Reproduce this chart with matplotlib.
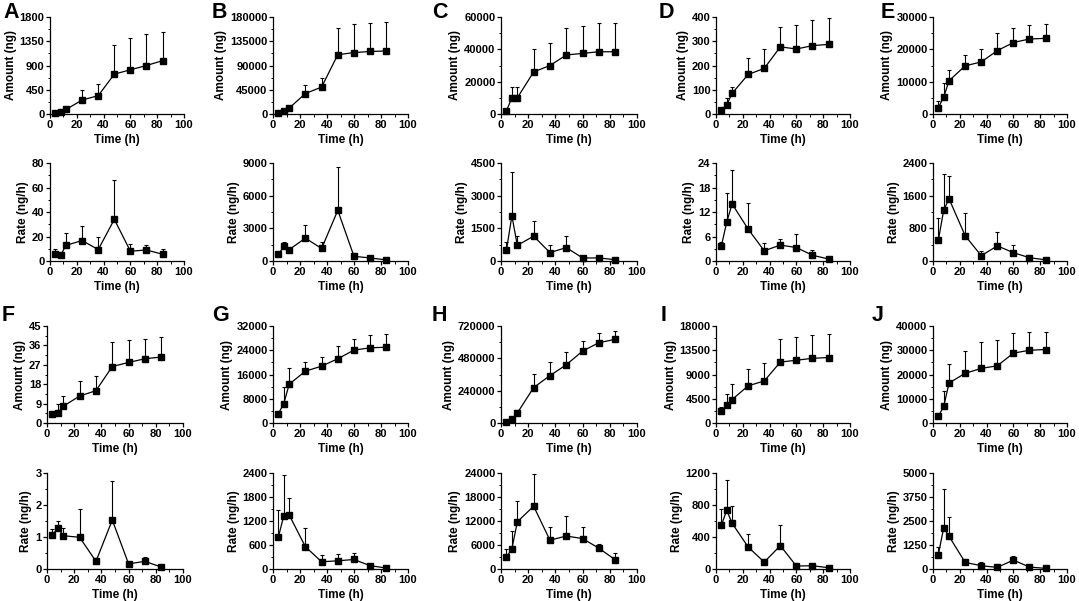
import numpy as np
import matplotlib
matplotlib.use("Agg")
import matplotlib.pyplot as plt
from matplotlib.ticker import MultipleLocator

plt.rcParams['font.family'] = ['Liberation Sans', 'DejaVu Sans']
plt.rcParams['font.weight'] = 'bold'

time_h = [4, 8, 12, 24, 36, 48, 60, 72, 84]
panels = ['A', 'B', 'C', 'D', 'E', 'F', 'G', 'H', 'I', 'J']

# cumulative amount (ng): mean and upper SD
amount = {
    'A': [25, 30, 85, 260, 340, 740, 820, 900, 990],
    'B': [2000, 6000, 11000, 38000, 50000, 110000, 114000, 116000, 117000],
    'C': [2000, 10000, 10000, 26000, 30000, 36500, 37500, 38500, 38500],
    'D': [15, 38, 85, 163, 188, 277, 268, 282, 287],
    'E': [2000, 5200, 10300, 14900, 16100, 19600, 22100, 23200, 23400],
    'F': [4.1, 4.8, 7.8, 12.5, 15, 26.2, 28.1, 29.8, 30.6],
    'G': [3100, 6400, 12800, 17100, 18750, 21200, 24050, 24800, 25000],
    'H': [7000, 27000, 74000, 263000, 352000, 432000, 534000, 596000, 621000],
    'I': [2200, 3350, 4350, 6900, 7800, 11300, 11650, 12000, 12150],
    'J': [2750, 6900, 16500, 20500, 22500, 23600, 28800, 30000, 30300],
}
amount_sd = {
    'A': [5, 10, 30, 180, 210, 540, 590, 580, 530],
    'B': [1000, 1500, 3000, 16000, 17000, 50000, 53000, 52000, 53000],
    'C': [1000, 6500, 7000, 14000, 14000, 17000, 17000, 17500, 17500],
    'D': [5, 27, 27, 69, 80, 83, 98, 105, 110],
    'E': [2000, 4500, 3400, 3500, 3900, 5600, 4400, 4200, 4300],
    'F': [0.3, 3.9, 4.7, 7.2, 6.6, 11.3, 10.3, 9.4, 9.4],
    'G': [300, 5500, 5400, 3100, 3150, 4200, 3750, 4100, 4200],
    'H': [3000, 8000, 20000, 99000, 100000, 94000, 77000, 69000, 59000],
    'I': [800, 2100, 2900, 3200, 3350, 4200, 4250, 4300, 4350],
    'J': [1150, 6300, 7800, 9100, 10700, 10600, 8300, 7400, 7300],
}

# excretion rate (ng/h): mean and upper SD
rate = {
    'A': [6, 5, 12.8, 16.7, 9.3, 34, 8, 9, 5.5],
    'B': [600, 1350, 1050, 2100, 1150, 4650, 430, 280, 100],
    'C': [490, 2080, 720, 1140, 385, 615, 140, 140, 60],
    'D': [3.7, 9.5, 14, 7.8, 2.5, 3.9, 3.3, 1.4, 0.5],
    'E': [510, 1250, 1520, 620, 130, 370, 205, 80, 30],
    'F': [1.05, 1.29, 1.04, 0.99, 0.24, 1.53, 0.16, 0.24, 0.06],
    'G': [800, 1335, 1350, 557, 180, 205, 238, 82, 25],
    'H': [3000, 5000, 11800, 15700, 7200, 8250, 7600, 5200, 2300],
    'I': [547, 735, 572, 275, 86, 292, 37, 41, 16],
    'J': [755, 2150, 1700, 345, 170, 85, 465, 100, 35],
}
rate_sd = {
    'A': [4, 0.5, 10, 12, 10.4, 32, 6, 4, 4.5],
    'B': [200, 350, 80, 1250, 550, 3950, 270, 60, 40],
    'C': [390, 2000, 430, 690, 370, 535, 40, 30, 10],
    'D': [1.0, 7.1, 8.4, 6.3, 1.8, 1.6, 3.3, 1.3, 0.1],
    'E': [540, 880, 550, 550, 110, 330, 180, 75, 10],
    'F': [0.21, 0.22, 0.25, 0.88, 0.1, 1.21, 0.02, 0.15, 0.01],
    'G': [675, 1005, 420, 473, 165, 180, 155, 20, 10],
    'H': [2000, 4500, 5100, 8000, 3400, 5100, 3000, 1100, 1800],
    'I': [201, 383, 221, 157, 45, 255, 8, 5, 3],
    'J': [395, 2040, 1030, 120, 175, 20, 235, 30, 10],
}

amount_ylim = {'A': (1800, 450), 'B': (180000, 45000), 'C': (60000, 20000),
               'D': (400, 100), 'E': (30000, 10000), 'F': (45, 9),
               'G': (32000, 8000), 'H': (720000, 240000), 'I': (18000, 4500),
               'J': (40000, 10000)}
rate_ylim = {'A': (80, 20), 'B': (9000, 3000), 'C': (4500, 1500),
             'D': (24, 6), 'E': (2400, 800), 'F': (3, 1),
             'G': (2400, 600), 'H': (24000, 6000), 'I': (1200, 400),
             'J': (5000, 1250)}

W, H = 1079, 601
fig = plt.figure(figsize=(W / 100, H / 100), dpi=100)

# axes placement in pixels: (x of t=0, x of t=100)
cols_top = [(50, 184), (273, 408), (501, 637), (716, 850), (933, 1067)]
cols_bot = [(47, 183), (273, 408), (501, 637), (716, 850), (933, 1067)]
rows = [((17, 114), (163, 261)), ((326, 423), (473, 569))]
# panel letter positions (left, baseline) in pixels
letter_pos = {'A': (3, 18), 'B': (212, 18), 'C': (432, 18), 'D': (659, 18),
              'E': (881, 18), 'F': (2, 321), 'G': (212, 321), 'H': (432, 321),
              'I': (661, 321), 'J': (872, 321)}


def px_axes(x0, x1, y0, y1):
    return fig.add_axes([x0 / W, 1 - y1 / H, (x1 - x0) / W, (y1 - y0) / H])


def style(ax, top, step, ylabel):
    ax.set_xlim(0, 100)
    ax.set_ylim(0, top)
    ax.xaxis.set_major_locator(MultipleLocator(20))
    ax.xaxis.set_minor_locator(MultipleLocator(10))
    ax.yaxis.set_major_locator(MultipleLocator(step))
    ax.yaxis.set_minor_locator(MultipleLocator(step / 2))
    for s in ['top', 'right']:
        ax.spines[s].set_visible(False)
    for s in ['left', 'bottom']:
        ax.spines[s].set_linewidth(0.9)
    ax.tick_params(which='major', direction='out', length=3, width=0.9,
                   labelsize=8, pad=1)
    ax.tick_params(which='minor', direction='out', length=1.8, width=0.7)
    ax.set_xlabel('Time (h)', fontsize=8.5, fontweight='bold', labelpad=3)
    ax.set_ylabel(ylabel, fontsize=8.5, fontweight='bold', labelpad=2)


def draw(ax, mean, sd):
    ax.errorbar(time_h, mean, yerr=[np.zeros(len(sd)), sd], fmt='-s',
                color='black', ms=3.8, lw=0.9, elinewidth=0.8, capsize=1.5,
                capthick=0.8, clip_on=False, zorder=3)


for r, (amt_rows, rate_rows) in enumerate(rows):
    cols = cols_top if r == 0 else cols_bot
    for c in range(5):
        key = panels[r * 5 + c]
        x0, x1 = cols[c]
        ax1 = px_axes(x0, x1, *amt_rows)
        draw(ax1, amount[key], amount_sd[key])
        style(ax1, *amount_ylim[key], 'Amount (ng)')
        ax2 = px_axes(x0, x1, *rate_rows)
        draw(ax2, rate[key], rate_sd[key])
        style(ax2, *rate_ylim[key], 'Rate (ng/h)')
        lx, ly = letter_pos[key]
        fig.text(lx / W, 1 - ly / H, key, fontsize=15.5, fontweight='bold',
                 va='baseline', ha='left')

fig.savefig('out.png', dpi=100)
